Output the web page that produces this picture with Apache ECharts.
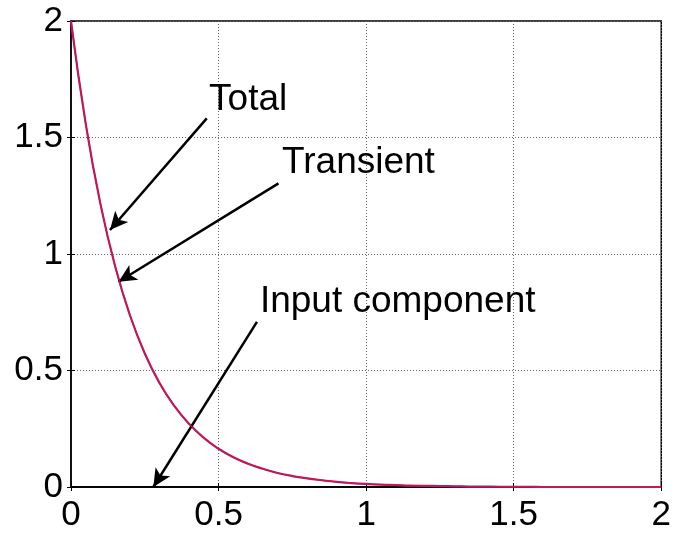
<!DOCTYPE html>
<html>
<head>
<meta charset="utf-8">
<script src="https://cdn.jsdelivr.net/npm/echarts@6/dist/echarts.min.js"></script>
<style>html,body{margin:0;padding:0;background:#fff}#c{width:674px;height:535px}</style>
</head>
<body>
<div id="c"></div>
<script>
var timeValues = [0,0.05,0.1,0.15,0.2,0.25,0.3,0.35,0.4,0.45,0.5,0.55,0.6,0.65,0.7,0.75,0.8,0.85,0.9,0.95,1,1.05,1.1,1.15,1.2,1.25,1.3,1.35,1.4,1.45,1.5,1.55,1.6,1.65,1.7,1.75,1.8,1.85,1.9,1.95,2];
var transientValues = [2.0,1.558,1.213,0.945,0.736,0.573,0.446,0.348,0.271,0.211,0.164,0.128,0.1,0.078,0.06,0.047,0.037,0.029,0.022,0.017,0.013,0.01,0.008,0.006,0.005,0.004,0.003,0.002,0.002,0.001,0.001,0.001,0,0,0,0,0,0,0,0,0];
var totalValues = [2.0,1.558,1.213,0.945,0.736,0.573,0.446,0.348,0.271,0.211,0.164,0.128,0.1,0.078,0.06,0.047,0.037,0.029,0.022,0.017,0.013,0.01,0.008,0.006,0.005,0.004,0.003,0.002,0.002,0.001,0.001,0.001,0,0,0,0,0,0,0,0,0];
var inputValues = [0,0,0,0,0,0,0,0,0,0,0,0,0,0,0,0,0,0,0,0,0,0,0,0,0,0,0,0,0,0,0,0,0,0,0,0,0,0,0,0,0];
var xTicks = [0,0.5,1,1.5,2];
var yTicks = [0,0.5,1,1.5,2];
var annotationTexts = ['Total','Transient','Input component'];
var annotationTextAt = [[0.468,1.662],[0.715,1.390],[0.640,0.795]];
var arrowFrom = [[0.460,1.582],[0.703,1.303],[0.630,0.709]];
var arrowTo = [[0.132,1.103],[0.161,0.881],[0.279,0.0]];

function pairs(xs, ys){ return xs.map(function(x,i){return [x, ys[i]];}); }

var font = 'Liberation Sans, Arial, sans-serif';
var chart = echarts.init(document.getElementById('c'), null, {renderer:'canvas'});
var gridLine = {show:true, lineStyle:{color:'#666', type:[1,2], width:1}};
var option = {
  animation:false,
  backgroundColor:'#fff',
  grid:{left:71, top:21, right:12, bottom:48, show:true, borderColor:'#000', borderWidth:1.5, backgroundColor:'transparent'},
  xAxis:[{
    type:'value', min:0, max:2, interval:0.5, position:'bottom',
    axisLine:{show:true, lineStyle:{color:'#000', width:1.5}},
    axisTick:{show:true, inside:true, length:4, lineStyle:{color:'#000'}},
    axisLabel:{color:'#000', fontSize:35, fontFamily:font, margin:11, formatter:function(v){return String(v);}},
    splitLine:gridLine
  },{
    type:'value', min:0, max:2, interval:0.5, position:'top',
    axisLine:{show:false}, axisTick:{show:true, inside:true, length:4, lineStyle:{color:'#000'}},
    axisLabel:{show:false}, splitLine:{show:false}
  }],
  yAxis:[{
    type:'value', min:0, max:2, interval:0.5,
    axisLine:{show:true, lineStyle:{color:'#000', width:1.5}},
    axisTick:{show:true, inside:true, length:4, lineStyle:{color:'#000'}},
    axisLabel:{color:'#000', fontSize:35, fontFamily:font, margin:8, formatter:function(v){return String(v);}},
    splitLine:gridLine
  },{
    type:'value', min:0, max:2, interval:0.5, position:'right',
    axisLine:{show:false}, axisTick:{show:true, inside:true, length:4, lineStyle:{color:'#000'}},
    axisLabel:{show:false}, splitLine:{show:false}
  }],
  series:[
    {name:'Input component', type:'line', data:pairs(timeValues, inputValues), showSymbol:false, smooth:false,
     lineStyle:{color:'#000', width:1.5}, z:3,
     markLine:{silent:true, symbol:['none','arrow'], symbolSize:[13,18], label:{show:false},
       lineStyle:{color:'#000', width:2.5, type:'solid'},
       data:arrowFrom.map(function(f,i){return [{coord:f},{coord:arrowTo[i]}];})},
     markPoint:{silent:true, symbol:'circle', symbolSize:0,
       label:{show:true, position:'right', distance:0, color:'#000', fontSize:37, fontFamily:font},
       data:annotationTextAt.map(function(c,i){return {coord:c, value:annotationTexts[i], label:{formatter:annotationTexts[i]}};})}
    },
    {name:'Transient', type:'line', data:pairs(timeValues, transientValues), showSymbol:false, smooth:true,
     lineStyle:{color:'#6040a0', width:2.2}, z:4},
    {name:'Total', type:'line', data:pairs(timeValues, totalValues), showSymbol:false, smooth:true,
     lineStyle:{color:'#ff0030', width:1.3}, z:5}
  ]
};
chart.setOption(option);
</script>
</body>
</html>
